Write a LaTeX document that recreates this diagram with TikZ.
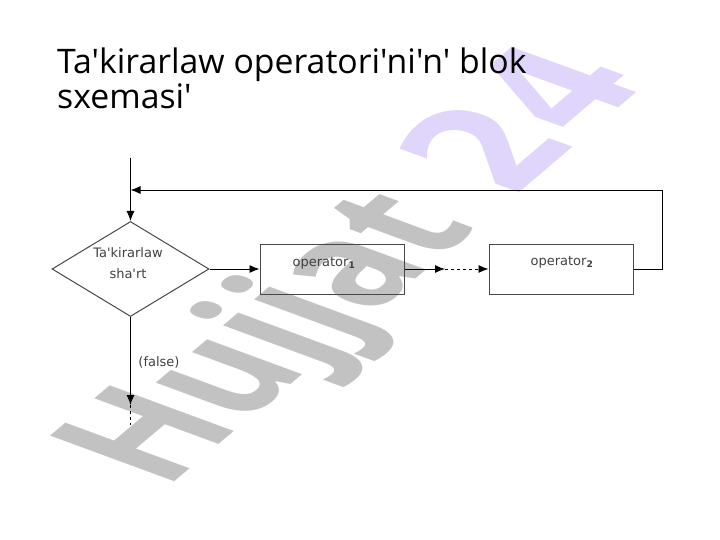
\documentclass[tikz,border=0pt]{standalone}
\usepackage{fontspec}
\setmainfont{Open Sans}
\newfontfamily\titlefont{Open Sans}
\newfontfamily\labelfont{DejaVu Sans}
\usetikzlibrary{arrows.meta,shapes.geometric}
\definecolor{markgray}{HTML}{C2C2C2}
\definecolor{marklilac}{HTML}{E0D5FA}
\definecolor{boxline}{HTML}{484848}
\tikzset{
    flowbox/.style={draw=boxline, line width=1pt, rectangle, minimum width=144pt, minimum height=50pt, inner sep=0pt},
    flowcond/.style={draw=boxline, line width=1pt, diamond, minimum width=157pt, minimum height=95pt, inner sep=0pt},
    flowtext/.style={font=\labelfont\fontsize{13}{21}\selectfont, text=black!75, align=center, inner sep=0pt},
    flowline/.style={line width=0.9pt, black},
    markword/.style={anchor=base west, inner sep=0pt, transform shape, font=\bfseries\fontsize{100}{100}\selectfont}
}

\begin{document}
\begin{tikzpicture}[x=1pt, y=-1pt, >={Latex[length=10pt,width=8pt]}]
        \useasboundingbox (0,0) rectangle (720,540);
        % watermark
        \begin{scope}[cm={1.02,.86,-1.74,.64,(165,490)}]
            \node[markword, text=markgray] (markword) at (0,0) {Hujjat};
        \end{scope}
        \begin{scope}[cm={1.01,.86,-1.71,.62,(511,200)}]
            \node[markword, text=marklilac, font=\labelfont\bfseries\fontsize{100}{100}\selectfont] (marknum) at (0,0) {24};
        \end{scope}
        % title
        \node[anchor=north west, align=left, inner sep=0pt, font=\titlefont\fontsize{33.8}{35}\selectfont] (title) at (57,48)
            {Ta'kirarlaw operatori'ni'n' blok\\sxemasi'};
        % blocks
        \node[flowcond] (cond) at (130.5,269) {};
        \node[flowtext] (condtext) at (128,263) {Ta'kirarlaw\\sha'rt};
        \node[flowbox] (op1) at (332,269) {};
        \node[flowtext] (op1text) at (324,263) {operator\textsubscript{\textbf{1}}};
        \node[flowbox] (op2) at (561,269) {};
        \node[flowtext] (op2text) at (562,262) {operator\textsubscript{\textbf{2}}};
        \node[flowtext] (falsetext) at (159,362) {(false)};
        % free ends
        \coordinate (start) at (130.5,158);
        \coordinate (join) at (130.5,190);
        \coordinate (corner1) at (662,269);
        \coordinate (corner2) at (662,190);
        \coordinate (gap) at (445,269);
        \coordinate (exit) at (130.5,405);
        \coordinate (tail) at (130.5,425);
        % connectors
        \draw[flowline, ->] (start) -- (cond.north);
        \draw[flowline, ->] (cond.east) -- (op1.west);
        \draw[flowline, ->] (op1.east) -- (gap);
        \draw[flowline, ->, dashed] (gap) -- (op2.west);
        \draw[flowline, ->] (op2.east) -- (corner1) -- (corner2) -- (join);
        \draw[flowline, ->] (cond.south) -- (exit);
        \draw[flowline, dashed] (exit) -- (tail);
    \end{tikzpicture}
\end{document}
